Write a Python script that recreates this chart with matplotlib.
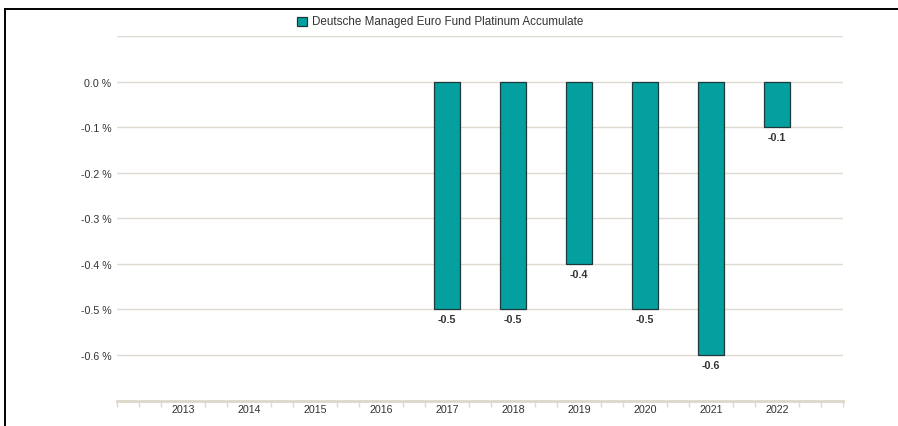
import numpy as np
import matplotlib
matplotlib.use("Agg")
import matplotlib.pyplot as plt
from matplotlib.lines import Line2D
from matplotlib.patches import Rectangle

plt.rcParams['font.family'] = ['Liberation Sans', 'DejaVu Sans']

# data
years = ['2013', '2014', '2015', '2016', '2017', '2018', '2019', '2020', '2021', '2022']
returns = [np.nan, np.nan, np.nan, np.nan, -0.5, -0.5, -0.4, -0.5, -0.6, -0.1]
series_name = 'Deutsche Managed Euro Fund Platinum Accumulate'
y_ticks = [0.0, -0.1, -0.2, -0.3, -0.4, -0.5, -0.6]

bar_color = '#04a0a0'
edge_color = '#1d3a3a'
grid_color = '#dedad2'
text_color = '#333333'

fig = plt.figure(figsize=(8.98, 4.27), dpi=100)
ax = fig.add_axes([117 / 898, 1 - 401.5 / 427, 726 / 898, 364.5 / 427])

x = np.arange(len(years))
vals = np.array(returns, dtype=float)
mask = ~np.isnan(vals)
ax.bar(x[mask], vals[mask], width=0.4, color=bar_color, edgecolor=edge_color,
       linewidth=0.9, zorder=3)

for xi, v in zip(x[mask], vals[mask]):
    ax.annotate(f'{v:.1f}', (xi, v), xytext=(0, -3.5), textcoords='offset points',
                ha='center', va='top', fontsize=7.7, fontweight='bold', color=text_color)

ax.set_xlim(-1, len(years))
ax.set_ylim(-0.7, 0.1)

ax.set_yticks(y_ticks + [0.1])
ax.set_yticklabels([f'{t:.1f} %' for t in y_ticks] + [''], fontsize=7.7, color=text_color)
ax.tick_params(axis='y', length=0, pad=4)
ax.grid(axis='y', color=grid_color, linewidth=1, zorder=0)

ax.set_xticks(x)
ax.set_xticklabels(years, fontsize=7.7, color=text_color)
ax.tick_params(axis='x', length=0, pad=2.2)
minor = [i / 3 for i in range(-3, 3 * len(years) + 1) if i % 3 != 0] + [-1, len(years)]
ax.set_xticks(minor, minor=True)
ax.tick_params(axis='x', which='minor', length=4, color=grid_color, width=1, direction='out')

for s in ['top', 'right', 'left']:
    ax.spines[s].set_visible(False)
ax.spines['bottom'].set_color('#ddd7cb')
ax.spines['bottom'].set_linewidth(2)

# legend
fig.patches.append(Rectangle((297 / 898, 1 - 27 / 427), 10 / 898, 9 / 427,
                             transform=fig.transFigure, facecolor=bar_color,
                             edgecolor=edge_color, linewidth=0.9))
fig.text(312 / 898, 1 - 22 / 427, series_name, fontsize=8.4, color=text_color,
         va='center', ha='left')

# outer frame
fig.add_artist(Line2D([5 / 898, 1], [1 - 10 / 427, 1 - 10 / 427], color='black',
                      linewidth=1.4, transform=fig.transFigure))
fig.add_artist(Line2D([5 / 898, 5 / 898], [0, 1 - 10 / 427], color='black',
                      linewidth=1.4, transform=fig.transFigure))

fig.savefig('out.png', dpi=100)
